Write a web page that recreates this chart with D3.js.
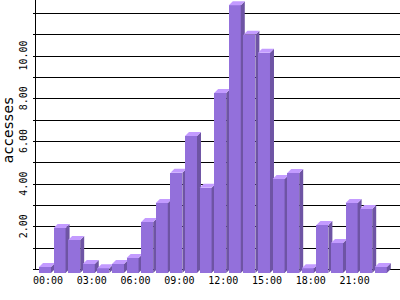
<!DOCTYPE html>
<html>
<head>
<meta charset="utf-8">
<script src="https://cdn.jsdelivr.net/npm/d3@7"></script>
<style>
	body { margin: 0; background: #fff; }
	svg { display: block; }
	text { fill: #000; }
</style>
</head>
<body>
<svg id="chart" width="400" height="300"></svg>
<script>
// hourly average accesses, 00:00 .. 23:00
let hours		= d3.range(24);
let accesses	= [0.09, 1.92, 1.36, 0.23, 0.03, 0.23, 0.52, 2.2, 3.09, 4.51, 6.23, 3.81,
				   8.24, 12.35, 10.97, 10.13, 4.22, 4.5, 0.03, 2.06, 1.22, 3.09, 2.81, 0.09];
let yTicks		= [2, 4, 6, 8, 10];
let gridLines	= d3.range(0, 13);
let xTicks		= [0, 3, 6, 9, 12, 15, 18, 21];

let depth		= 4;
let axisX		= 35.5;
let baseY		= 269;

let svg			= d3.select('#chart');

let y			= d3.scaleLinear().domain([0, 12.6]).range([baseY, 0]);
let x			= d3.scaleBand().domain(hours).range([39, 386.8]).paddingInner(0.18).paddingOuter(0);
let bw			= x.bandwidth();

// grid
svg.append('g').selectAll('line').data(gridLines).join('line')
	.attr('x1', 33).attr('x2', 400)
	.attr('y1', (d) => Math.round(y(d)) + .5).attr('y2', (d) => Math.round(y(d)) + .5)
	.attr('stroke', '#000').attr('stroke-width', 1).attr('shape-rendering', 'crispEdges');

svg.append('line').attr('x1', axisX).attr('x2', axisX).attr('y1', 0).attr('y2', baseY + 1)
	.attr('stroke', '#000').attr('shape-rendering', 'crispEdges');

// 3d bars
let bars	= svg.append('g').selectAll('g').data(hours).join('g');

bars.append('rect')
	.attr('x', (d) => x(d)).attr('y', (d) => y(accesses[d]))
	.attr('width', bw).attr('height', (d) => baseY + depth - y(accesses[d]))
	.attr('fill', '#9370db').attr('shape-rendering', 'crispEdges');

bars.append('polygon')
	.attr('points', (d) => {
		let x0 = x(d), yv = y(accesses[d]);
		return [[x0 + bw, yv], [x0 + bw + depth, yv - depth], [x0 + bw + depth, baseY], [x0 + bw, baseY + depth]].join(' ');
	})
	.attr('fill', '#6e54a4');

bars.append('polygon')
	.attr('points', (d) => {
		let x0 = x(d), yv = y(accesses[d]);
		return [[x0, yv], [x0 + depth, yv - depth], [x0 + bw + depth, yv - depth], [x0 + bw, yv]].join(' ');
	})
	.attr('fill', '#c39bff');

// y labels
svg.append('g').selectAll('text').data(yTicks).join('text')
	.attr('transform', (d) => 'translate(27,' + y(d) + ') rotate(-90)')
	.attr('text-anchor', 'middle')
	.style('font', '10px "DejaVu Sans Mono"')
	.text((d) => d.toFixed(2));

svg.append('text')
	.attr('transform', 'translate(13,' + 130 + ') rotate(-90)')
	.attr('text-anchor', 'middle')
	.style('font', '14px "DejaVu Sans"')
	.style('letter-spacing', '0.4px')
	.text('accesses');

// x labels
svg.append('g').selectAll('text').data(xTicks).join('text')
	.attr('x', (d) => x(d) + bw / 2 + 3).attr('y', 284)
	.attr('text-anchor', 'middle')
	.style('font', '10px "DejaVu Sans Mono"')
	.text((d) => String(d).padStart(2, '0') + ':00');
</script>
</body>
</html>
